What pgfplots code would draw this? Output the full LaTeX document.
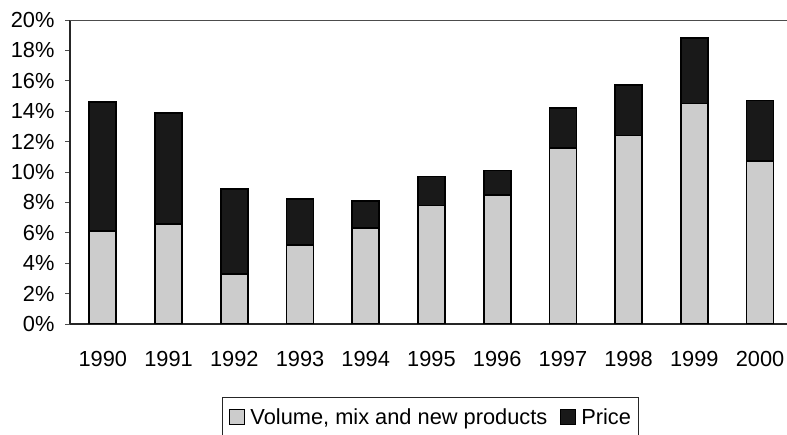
\documentclass[border=0pt]{standalone}
\usepackage{pgfplots}
\pgfplotsset{compat=1.18}
\usepackage{fontspec}
\setmainfont{Liberation Sans}
\newcommand{\lbl}{\fontsize{21.8}{26}\selectfont}
\begin{document}
\begin{tikzpicture}
\begin{axis}[
  name=ax,
  scale only axis,
  width=717pt, height=304pt,
  ybar stacked,
  bar width=27pt,
  xmin=-0.5, xmax=10.41,
  ymin=0, ymax=20,
  axis lines*=left,
  axis line style={line width=1.1pt, black!85},
  xtick={0,...,10},
  xticklabels={1990,1991,1992,1993,1994,1995,1996,1997,1998,1999,2000},
  major x tick style={draw=none},
  extra x ticks={-0.5,0.5,1.5,2.5,3.5,4.5,5.5,6.5,7.5,8.5,9.5},
  extra x tick labels={},
  extra x tick style={major tick length=6pt, tick align=outside, tick style={black!80, line width=0.9pt}},
  xticklabel shift=19pt,
  ytick={0,2,...,20},
  yticklabels={0\%,2\%,4\%,6\%,8\%,10\%,12\%,14\%,16\%,18\%,20\%},
  y tick style={black!70, line width=0.7pt},
  tick align=outside,
  major tick length=5pt,
  yticklabel shift=7pt,
  tick label style={font=\lbl, black},
  /pgf/number format/assume math mode=true,
  legend columns=2,
  legend style={at={(0.212,-0.24)}, anchor=north west, font=\lbl,
    draw=black!85, line width=0.9pt, inner xsep=5pt, inner ysep=9pt,
    /tikz/every even column/.append style={column sep=9pt}},
  legend image code/.code={\path[draw=none, fill=none] (0pt,0pt) -- (21pt,0pt);
    \draw[#1, line width=0.9pt] (2pt,-7pt) rectangle (17pt,8pt);},
]
\addplot[fill=black!20, draw=black, line width=1.8pt] coordinates {
  (0,6.1) (1,6.6) (2,3.3) (3,5.2) (4,6.3) (5,7.8) (6,8.5) (7,11.6) (8,12.4) (9,14.5) (10,10.7)};
\addlegendentry{Volume, mix and new products}
\addplot[fill=black!90, draw=black, line width=1.8pt] coordinates {
  (0,8.5) (1,7.3) (2,5.6) (3,3.0) (4,1.8) (5,1.9) (6,1.6) (7,2.6) (8,3.3) (9,4.3) (10,4.0)};
\addlegendentry{Price\hspace{6pt}}
\draw[black!70, line width=0.9pt] (rel axis cs:0,1) -- (rel axis cs:1,1);
\end{axis}
\pgfresetboundingbox
\path ([xshift=-70pt,yshift=-111pt]ax.south west) rectangle ([yshift=20pt]ax.north east);
\end{tikzpicture}
\end{document}
